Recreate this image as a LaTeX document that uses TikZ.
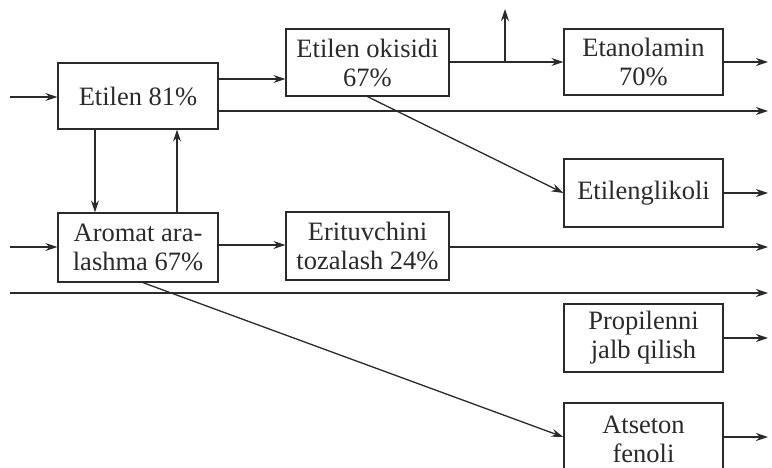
\documentclass[tikz,border=0pt]{standalone}
\usepackage{fontspec}
\setmainfont{Liberation Serif}
\usetikzlibrary{arrows.meta}
\definecolor{ink}{HTML}{2A2A2A}
\begin{document}
\begin{tikzpicture}[x=1pt,y=-1pt,
  box/.style={draw=ink,line width=1.3pt,rectangle,inner sep=0pt,align=center,
    text=ink,font=\fontsize{26.5}{29}\selectfont},
  flow/.style={draw=ink,line width=1.3pt,-{Stealth[length=12pt,width=8pt]}},
  plain/.style={draw=ink,line width=1.3pt}]
\useasboundingbox (0,0) rectangle (772,468);
\clip (0,0) rectangle (772,468);
% boxes
\node[box,minimum width=160pt,minimum height=66pt] (e81) at (138,96) {Etilen 81\%};
\node[box,minimum width=163pt,minimum height=67pt] (eok) at (367.5,62.5) {Etilen okisidi\\67\%};
\node[box,minimum width=159pt,minimum height=66pt] (etan) at (643.5,62) {Etanolamin\\70\%};
\node[box,minimum width=159pt,minimum height=68pt] (eglik) at (643.5,193) {Etilenglikoli};
\node[box,minimum width=160pt,minimum height=69pt] (arom) at (138,247.5) {Aromat ara-\\lashma 67\%};
\node[box,minimum width=163pt,minimum height=68pt] (erit) at (367.5,246) {Erituvchini\\tozalash 24\%};
\node[box,minimum width=159pt,minimum height=68pt] (prop) at (643.5,338) {Propilenni\\jalb qilish};
\node[box,minimum width=159pt,minimum height=72pt] (atset) at (643.5,439) {Atseton\\fenoli};
% free ends
\coordinate (in1) at (10,97);
\coordinate (in2) at (10,247);
\coordinate (in3) at (10,293);
\coordinate (o1) at (768,62);
\coordinate (o2) at (768,111);
\coordinate (o3) at (768,193);
\coordinate (o4) at (768,247);
\coordinate (o5) at (768,293);
\coordinate (o6) at (768,338);
\coordinate (o7) at (768,437);
\coordinate (br) at (505,62);
\coordinate (up) at (505,9);
% connectors
\draw[flow] (in1) -- (in1 -| e81.west);
\draw[flow] (e81.east |- 0,79) -- (eok.west |- 0,79);
\draw[flow] (e81.east |- o2) -- (o2);
\draw[plain] (eok.east |- br) -- (br);
\draw[flow] (br) -- (etan.west |- br);
\draw[flow] (br) -- (up);
\draw[flow] (etan.east |- o1) -- (o1);
\draw[flow] (eok.south) -- (eglik.west);
\draw[flow] (eglik.east) -- (o3);
\draw[flow] ([xshift=-43pt]e81.south) -- ([xshift=-43pt]arom.north);
\draw[flow] ([xshift=39pt]arom.north) -- ([xshift=39pt]e81.south);
\draw[flow] (in2) -- (in2 -| arom.west);
\draw[flow] (arom.east |- 0,245) -- (erit.west |- 0,245);
\draw[flow] (erit.east |- o4) -- (o4);
\draw[flow] (in3) -- (o5);
\draw[flow] ([xshift=5pt]arom.south) -- (atset.west |- o7);
\draw[flow] (prop.east) -- (o6);
\draw[flow] (atset.east |- o7) -- (o7);
\end{tikzpicture}
\end{document}
